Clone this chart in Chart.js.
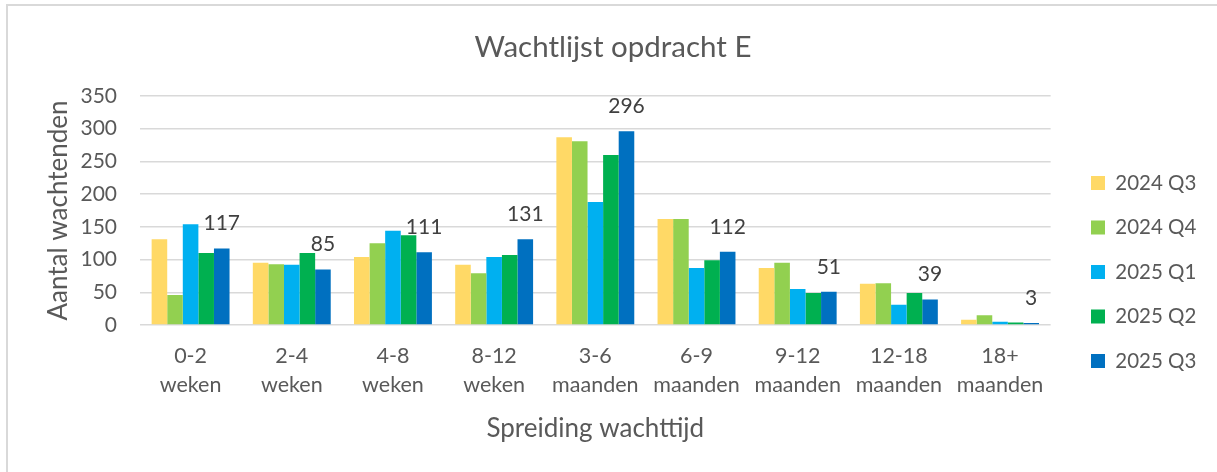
<!DOCTYPE html>
<html>
<head>
<meta charset="utf-8">
<script src="https://cdn.jsdelivr.net/npm/chart.js@4"></script>
<style>
  html, body { margin: 0; padding: 0; background: #fff; overflow: hidden; }
  #frame { position: absolute; left: 6px; top: 4px; width: 1400px; height: 700px; border: 2px solid #d9d9d9; }
  #wrap { position: absolute; left: 0; top: 0; width: 1217px; height: 472px; }
</style>
</head>
<body>
<div id="frame"></div>
<div id="wrap"><canvas id="waitChart"></canvas></div>
<script>
const categories = [
    ['0-2', 'weken'], ['2-4', 'weken'], ['4-8', 'weken'], ['8-12', 'weken'],
    ['3-6', 'maanden'], ['6-9', 'maanden'], ['9-12', 'maanden'], ['12-18', 'maanden'], ['18+', 'maanden']
];
const seriesNames = ['2024 Q3', '2024 Q4', '2025 Q1', '2025 Q2', '2025 Q3'];
const q3_2024 = [131, 95, 104, 92, 287, 162, 87, 63, 8];
const q4_2024 = [46, 93, 125, 79, 281, 162, 95, 64, 15];
const q1_2025 = [154, 92, 144, 104, 188, 87, 55, 31, 5];
const q2_2025 = [110, 110, 137, 107, 260, 99, 49, 49, 4];
const q3_2025 = [117, 85, 111, 131, 296, 112, 51, 39, 3];
const seriesColors = ['#FFD966', '#92D050', '#00B0F0', '#00B050', '#0070C0'];
const yTicks = [0, 50, 100, 150, 200, 250, 300, 350];

const allSeries = [q3_2024, q4_2024, q1_2025, q2_2025, q3_2025];
const textGrey = '#595959';

// value labels above the last series only
const lastLabels = {
    id: 'lastLabels',
    afterDatasetsDraw(chart) {
        const idx = chart.data.datasets.length - 1;
        const meta = chart.getDatasetMeta(idx);
        const ctx = chart.ctx;
        ctx.save();
        ctx.font = '21px Lato';
        ctx.fillStyle = '#404040';
        ctx.textAlign = 'center';
        ctx.textBaseline = 'alphabetic';
        meta.data.forEach((bar, i) => {
            ctx.fillText(String(chart.data.datasets[idx].data[i]), bar.x, bar.y - 18);
        });
        ctx.restore();
    }
};

// legend a bit further from the plot, title centred on the whole frame
const boxShift = {
    id: 'boxShift',
    afterLayout(chart) {
        const lg = chart.legend;
        const w = lg.width;
        lg.left = 1067;
        lg.right = lg.left + w;
        chart.titleBlock.left = 9;
        chart.titleBlock.right = 1217;
    }
};

const ctx = document.getElementById('waitChart').getContext('2d');
const waitChart = new Chart(ctx, {
    type: 'bar',
    data: {
        labels: categories,
        datasets: allSeries.map((vals, i) => ({
            label: seriesNames[i],
            data: vals,
            backgroundColor: seriesColors[i],
            categoryPercentage: 0.77,
            barPercentage: 1.0
        }))
    },
    options: {
        responsive: true,
        maintainAspectRatio: false,
        animation: false,
        layout: {
            padding: { left: 0, right: 27, top: 0, bottom: 0 }
        },
        plugins: {
            title: {
                display: true,
                text: 'Wachtlijst opdracht E',
                color: textGrey,
                font: { family: 'Lato', size: 29.5, weight: 'normal' },
                padding: { top: 29.8, bottom: 30.8 }
            },
            legend: {
                position: 'right',
                title: { display: true, text: ' ', font: { size: 10 }, padding: { top: 60, bottom: 0 } },
                labels: {
                    color: textGrey,
                    font: { family: 'Lato', size: 20.5 },
                    boxWidth: 14,
                    boxHeight: 14,
                    padding: 24
                }
            },
            tooltip: { enabled: false }
        },
        scales: {
            x: {
                afterFit(scale) { scale.height = 147; },
                grid: { display: false, drawTicks: false },
                border: { display: false },
                ticks: {
                    color: textGrey,
                    font: { family: 'Lato', size: 21.5, lineHeight: 1.35 },
                    padding: 17,
                    maxRotation: 0
                },
                title: {
                    display: true,
                    text: 'Spreiding wachttijd',
                    color: textGrey,
                    font: { family: 'Lato', size: 26 },
                    padding: { top: 0, bottom: 28 }
                }
            },
            y: {
                min: 0,
                max: 350,
                afterBuildTicks(scale) {
                    scale.ticks = yTicks.map(v => ({ value: v }));
                },
                afterFit(scale) { scale.width = 140; },
                grid: { color: '#d9d9d9', lineWidth: 1.5, drawTicks: false },
                border: { display: false },
                ticks: {
                    color: textGrey,
                    font: { family: 'Lato', size: 21 },
                    padding: 23
                },
                title: {
                    display: true,
                    text: 'Aantal wachtenden',
                    color: textGrey,
                    font: { family: 'Lato', size: 26 },
                    padding: { top: 43, bottom: 0 }
                }
            }
        }
    },
    plugins: [lastLabels, boxShift]
});
</script>
</body>
</html>
